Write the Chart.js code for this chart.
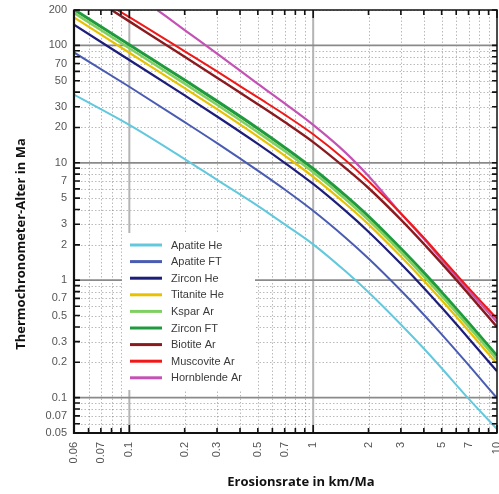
<!DOCTYPE html>
<html><head><meta charset="utf-8">
<script src="https://cdn.jsdelivr.net/npm/chart.js@4"></script>
<style>html,body{margin:0;padding:0;background:#fff;overflow:hidden}</style>
</head><body>
<canvas id="c" width="499" height="494"></canvas>
<script>
// ---- data (erosion rate in km/Ma -> thermochronometer age in Ma) ----
const seriesNames = ['Apatite He','Apatite FT','Zircon He','Titanite He','Kspar Ar','Zircon FT','Biotite Ar','Muscovite Ar','Hornblende Ar'];
const seriesColors = ['#62c8dd','#4a5cb2','#1c1e7a','#e8c100','#7fd062','#1f9a3e','#8a1a1e','#f01818','#c452b4'];
const seriesWidths = [2,2,2.2,2.2,2.6,3,2.4,2,2.2];

const baseRates      = [0.05, 0.1, 0.2, 0.3, 0.5, 0.7, 1, 1.5, 2, 3, 4, 5, 7, 10];
const biotiteRates   = [0.08, 0.1, 0.2, 0.3, 0.5, 0.7, 1, 1.5, 2, 3, 4, 5, 7, 10];
const muscoviteRates = [0.086, 0.1, 0.2, 0.3, 0.5, 0.7, 1, 1.5, 2, 3, 4, 5, 7, 10];
const hornblendeRates= [0.142, 0.2, 0.3, 0.5, 0.7, 1, 1.5, 2, 3, 4, 5, 7, 10];

const apatiteHe   = [38, 21, 10.75, 7.16, 4.3, 2.99, 2.02, 1.19, 0.79, 0.42, 0.262, 0.178, 0.098, 0.054];
const apatiteFT   = [87, 44.4, 22.2, 14.7, 8.57, 5.92, 3.9, 2.3, 1.53, 0.817, 0.508, 0.346, 0.19, 0.099];
const zirconHe    = [150, 75, 37.5, 24.8, 14.5, 10.0, 6.6, 3.89, 2.59, 1.38, 0.86, 0.585, 0.321, 0.168];
const titaniteHe  = [173, 86.5, 43.2, 28.6, 16.7, 11.5, 7.6, 4.48, 2.99, 1.59, 0.99, 0.674, 0.371, 0.194];
const ksparAr     = [189, 94.5, 47.2, 31.2, 18.2, 12.6, 8.3, 4.9, 3.26, 1.74, 1.08, 0.736, 0.405, 0.211];
const zirconFT    = [202, 101, 50.6, 33.5, 19.6, 13.5, 8.9, 5.25, 3.5, 1.86, 1.16, 0.79, 0.434, 0.227];
const biotiteAr   = [200, 160, 80, 53, 31.5, 22.2, 15.0, 9.0, 6.1, 3.28, 2.04, 1.39, 0.765, 0.40];
const muscoviteAr = [200, 174, 89, 60, 36, 25.7, 17.5, 10.5, 6.95, 3.7, 2.3, 1.55, 0.86, 0.47];
const hornblendeAr= [200, 135, 85, 47, 32, 21, 12.2, 7.7, 3.7, 2.25, 1.5, 0.82, 0.44];

const seriesRates  = [baseRates, baseRates, baseRates, baseRates, baseRates, baseRates, biotiteRates, muscoviteRates, hornblendeRates];
const seriesValues = [apatiteHe, apatiteFT, zirconHe, titaniteHe, ksparAr, zirconFT, biotiteAr, muscoviteAr, hornblendeAr];

const xTickValues = [0.05, 0.07, 0.1, 0.2, 0.3, 0.5, 0.7, 1, 2, 3, 5, 7, 10];
const xTickLabels = ['0.06','0.07','0.1','0.2','0.3','0.5','0.7','1','2','3','5','7','10'];
const yTickValues = [200, 100, 70, 50, 30, 20, 10, 7, 5, 3, 2, 1, 0.7, 0.5, 0.3, 0.2, 0.1, 0.07, 0.05];
const yTickLabels = ['200','100','70','50','30','20','10','7','5','3','2','1','0.7','0.5','0.3','0.2','0.1','0.07','0.05'];

const xTitle = 'Erosionsrate in km/Ma';
const yTitle = 'Thermochronometer-Alter in Ma';

// grid positions (1..9 per decade)
function minorValues(lo, hi) {
  const out = [];
  for (let e = -3; e <= 3; e++) for (let m = 1; m <= 9; m++) {
    const v = +(m * Math.pow(10, e)).toPrecision(3);
    if (v >= lo - 1e-9 && v <= hi + 1e-9) out.push(v);
  }
  return out;
}
const xGrid = minorValues(0.05, 10);
const yGrid = minorValues(0.05, 200);
const xMajor = [0.1, 1];
const yMajor = [100, 10, 1, 0.1];
const isDecade = v => Math.abs(Math.log10(v) - Math.round(Math.log10(v))) < 1e-6;

const tickFont = {family: '"Liberation Sans", Arial, Helvetica, sans-serif', size: 11};

const decor = {
  id: 'decor',
  beforeDatasetsDraw(chart) {
    const {ctx, chartArea: a, scales: {x, y}} = chart;
    ctx.save();
    ctx.strokeStyle = 'rgba(0,0,0,0.27)';
    ctx.lineWidth = 1;
    ctx.setLineDash([1.5, 2]);
    yGrid.forEach(v => {
      if (isDecade(v)) return;
      const p = Math.round(y.getPixelForValue(v)) + 0.5;
      ctx.beginPath(); ctx.moveTo(a.left, p); ctx.lineTo(a.right, p); ctx.stroke();
    });
    xGrid.forEach(v => {
      if (isDecade(v)) return;
      const p = Math.round(x.getPixelForValue(v)) + 0.5;
      ctx.beginPath(); ctx.moveTo(p, a.top); ctx.lineTo(p, a.bottom); ctx.stroke();
    });
    ctx.setLineDash([]);
    ctx.strokeStyle = '#b4b4b4'; ctx.lineWidth = 2;
    xMajor.forEach(v => {
      const p = x.getPixelForValue(v);
      ctx.beginPath(); ctx.moveTo(p, a.top); ctx.lineTo(p, a.bottom); ctx.stroke();
    });
    ctx.strokeStyle = '#8a8a8a'; ctx.lineWidth = 1.7;
    yMajor.forEach(v => {
      const p = y.getPixelForValue(v);
      ctx.beginPath(); ctx.moveTo(a.left, p); ctx.lineTo(a.right, p); ctx.stroke();
    });
    // legend box (white, covering grid)
    ctx.fillStyle = '#fff';
    ctx.fillRect(122, 233, 133, 157);
    ctx.restore();
  },
  afterDatasetsDraw(chart) {
    const {ctx, chartArea: a, scales: {x, y}} = chart;
    ctx.save();
    // legend entries
    chart.data.datasets.forEach((ds, i) => {
      const cy = 245 + i * 16.6;
      ctx.strokeStyle = ds.borderColor; ctx.lineWidth = 3;
      ctx.beginPath(); ctx.moveTo(130, cy); ctx.lineTo(162, cy); ctx.stroke();
      ctx.fillStyle = '#3a3a3a';
      ctx.font = '11px "Liberation Sans", Arial, Helvetica, sans-serif';
      ctx.textBaseline = 'middle'; ctx.textAlign = 'left';
      ctx.fillText(ds.label, 171, cy + 0.5);
    });
    // frame
    ctx.strokeStyle = '#111';
    ctx.lineWidth = 1.5;
    ctx.strokeRect(a.left, a.top, a.right - a.left, a.bottom - a.top);
    ctx.lineWidth = 2.2;
    ctx.beginPath(); ctx.moveTo(a.left, a.top); ctx.lineTo(a.left, a.bottom); ctx.lineTo(a.right, a.bottom); ctx.stroke();
    // tick marks
    ctx.lineWidth = 1.6;
    yGrid.forEach(v => {
      const p = y.getPixelForValue(v);
      ctx.beginPath();
      ctx.moveTo(a.left, p); ctx.lineTo(a.left + 6, p);
      ctx.moveTo(a.right, p); ctx.lineTo(a.right - 5, p);
      ctx.stroke();
    });
    xGrid.forEach(v => {
      const p = x.getPixelForValue(v);
      const len = isDecade(v) ? 8 : 5;
      ctx.beginPath();
      ctx.moveTo(p, a.bottom); ctx.lineTo(p, a.bottom - len);
      ctx.moveTo(p, a.top); ctx.lineTo(p, a.top + len);
      ctx.stroke();
    });
    ctx.restore();
  },
  afterDraw(chart) {
    const {ctx} = chart;
    ctx.save();
    ctx.fillStyle = '#111';
    ctx.font = 'bold 13px "Open Sans", "Noto Sans", sans-serif';
    ctx.textAlign = 'center'; ctx.textBaseline = 'middle';
    ctx.fillText(xTitle, 301, 482);
    ctx.translate(21, 244);
    ctx.rotate(-Math.PI / 2);
    ctx.fillText(yTitle, 0, 0);
    ctx.restore();
  }
};

const datasets = seriesNames.map((name, i) => ({
  label: name,
  data: seriesRates[i].map((r, j) => ({x: r, y: seriesValues[i][j]})),
  borderColor: seriesColors[i],
  borderWidth: seriesWidths[i],
  pointRadius: 0,
  fill: false,
  cubicInterpolationMode: 'monotone'
}));

new Chart(document.getElementById('c'), {
  type: 'line',
  data: {datasets},
  plugins: [decor],
  options: {
    responsive: false,
    animation: false,
    layout: {padding: {top: 10, right: 2, left: 0, bottom: 0}},
    plugins: {legend: {display: false}, tooltip: {enabled: false}},
    scales: {
      x: {
        type: 'logarithmic', min: 0.05, max: 10,
        afterBuildTicks: s => { s.ticks = xTickValues.map(v => ({value: v})); },
        afterFit: s => { s.height = 61; s.paddingLeft = 0; s.paddingRight = 0; },
        grid: {display: false, drawTicks: false},
        border: {display: false},
        ticks: {autoSkip: false, minRotation: 90, maxRotation: 90, padding: 9, font: tickFont, color: '#555',
                callback: (v, i) => xTickLabels[i]}
      },
      y: {
        type: 'logarithmic', min: 0.05, max: 200,
        afterBuildTicks: s => { s.ticks = yTickValues.map(v => ({value: v})); },
        afterFit: s => { s.width = 74; s.paddingTop = 0; s.paddingBottom = 0; },
        grid: {display: false, drawTicks: false},
        border: {display: false},
        ticks: {autoSkip: false, padding: 7, font: tickFont, color: '#555',
                callback: (v, i) => yTickLabels[i]}
      }
    }
  }
});
</script>
</body></html>
